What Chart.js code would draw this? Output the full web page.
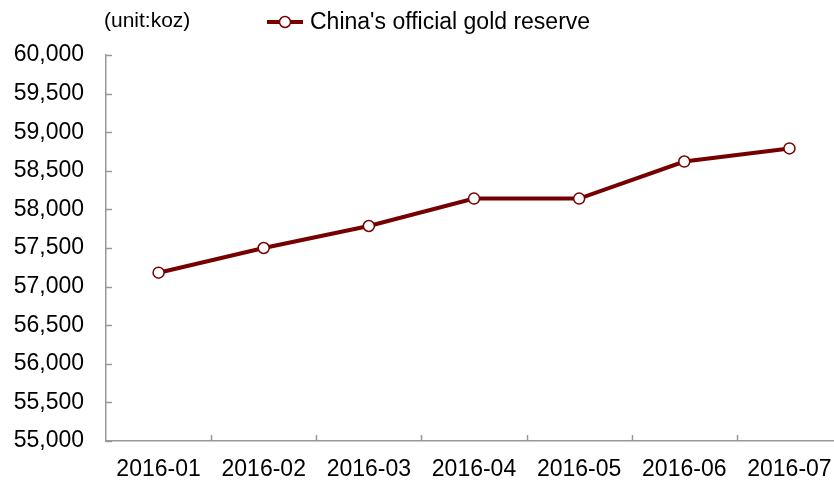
<!DOCTYPE html>
<html>
<head>
<meta charset="utf-8">
<script src="https://cdn.jsdelivr.net/npm/chart.js@4/dist/chart.umd.min.js"></script>
<style>
  html, body { margin: 0; padding: 0; background: #fff; overflow: hidden; }
  canvas { display: block; }
</style>
</head>
<body>
<canvas id="chart" width="849" height="484"></canvas>
<script>
// 数据
const months = ['2016-01', '2016-02', '2016-03', '2016-04', '2016-05', '2016-06', '2016-07']
const goldReserve = [57180, 57500, 57785, 58140, 58140, 58620, 58790]
const seriesName = "China's official gold reserve"
const unitLabel = '(unit:koz)'

const FONT = 'Liberation Sans, Arial, sans-serif'
const LINE_COLOR = '#760000'
const AXIS_COLOR = '#999999'

// 画内侧刻度线、图例和单位
const decorations = {
  id: 'decorations',
  afterDraw(chart) {
    const { ctx } = chart
    const x = chart.scales.x
    const y = chart.scales.y
    ctx.save()
    ctx.strokeStyle = AXIS_COLOR
    ctx.lineWidth = 1.5
    ctx.beginPath()
    y.ticks.forEach((t, i) => {
      const py = Math.round(y.getPixelForTick(i)) + 0.5
      ctx.moveTo(x.left, py)
      ctx.lineTo(x.left + 6, py)
    })
    for (let i = 0; i < months.length - 1; i++) {
      const px = Math.round((x.getPixelForValue(i) + x.getPixelForValue(i + 1)) / 2) + 0.5
      ctx.moveTo(px, y.bottom)
      ctx.lineTo(px, y.bottom - 6)
    }
    ctx.stroke()

    // 单位
    ctx.fillStyle = '#000'
    ctx.font = '21px ' + FONT
    ctx.textBaseline = 'middle'
    ctx.textAlign = 'left'
    ctx.fillText(unitLabel, 104, 21)

    // 图例
    const ds = chart.data.datasets[0]
    const lx = 267, ly = 22
    ctx.strokeStyle = ds.borderColor
    ctx.lineWidth = ds.borderWidth
    ctx.beginPath()
    ctx.moveTo(lx, ly)
    ctx.lineTo(lx + 36, ly)
    ctx.stroke()
    ctx.beginPath()
    ctx.arc(lx + 18, ly, ds.pointRadius, 0, Math.PI * 2)
    ctx.fillStyle = ds.pointBackgroundColor
    ctx.fill()
    ctx.lineWidth = ds.pointBorderWidth
    ctx.strokeStyle = ds.pointBorderColor
    ctx.stroke()
    ctx.fillStyle = '#000'
    ctx.font = '23px ' + FONT
    ctx.fillText(ds.label, lx + 43, ly + 1)
    ctx.restore()
  }
}

new Chart(document.getElementById('chart'), {
  type: 'line',
  data: {
    labels: months,
    datasets: [{
      label: seriesName,
      data: goldReserve,
      borderColor: LINE_COLOR,
      borderWidth: 4,
      pointRadius: 5.5,
      pointBackgroundColor: '#ffffff',
      pointBorderColor: LINE_COLOR,
      pointBorderWidth: 1.5,
      tension: 0
    }]
  },
  options: {
    responsive: false,
    animation: false,
    devicePixelRatio: 1,
    layout: { padding: { top: 55, left: 0, right: 1, bottom: 0 } },
    plugins: {
      legend: { display: false },
      tooltip: { enabled: false }
    },
    scales: {
      x: {
        offset: true,
        grid: { display: false, drawTicks: false },
        border: { display: true, color: AXIS_COLOR, width: 1.5 },
        ticks: { color: '#000', font: { family: FONT, size: 23 }, padding: 15, maxRotation: 0, autoSkip: false },
        afterFit(scale) { scale.height = 43 }
      },
      y: {
        min: 55000,
        max: 60000,
        grid: { display: false, drawTicks: false },
        border: { display: true, color: AXIS_COLOR, width: 1.5 },
        ticks: {
          stepSize: 500,
          color: '#000',
          font: { family: FONT, size: 23 },
          padding: 22,
          callback: v => v.toLocaleString('en-US')
        },
        afterFit(scale) { scale.width = 106 }
      }
    }
  },
  plugins: [decorations]
})
</script>
</body>
</html>
